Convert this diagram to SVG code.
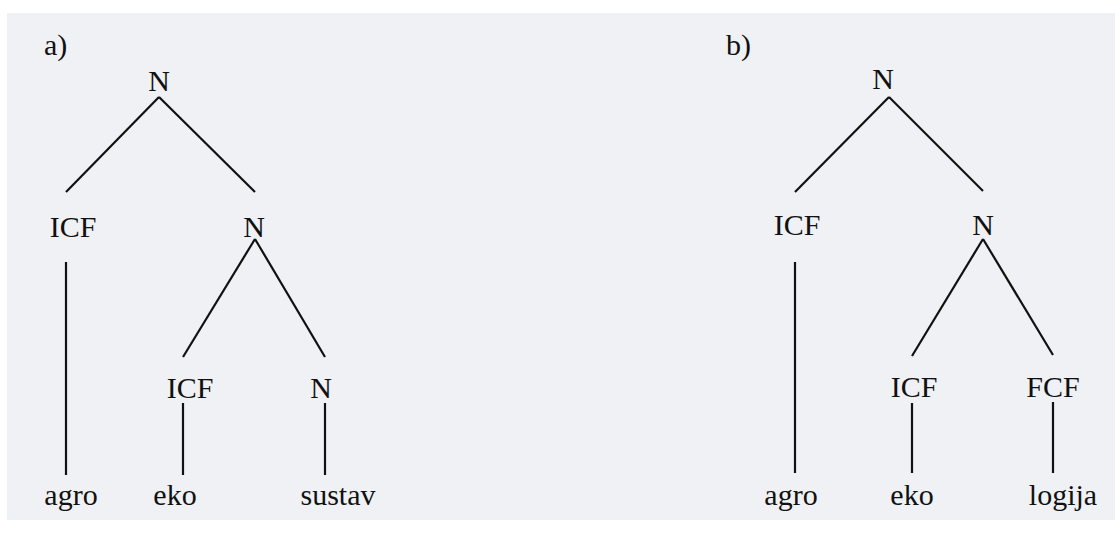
<svg xmlns="http://www.w3.org/2000/svg" width="1115" height="533" viewBox="0 0 1115 533">
<style>
text{font-family:'Liberation Serif','Times New Roman','DejaVu Serif',serif;font-size:30px;fill:#111;text-anchor:middle}
.lbl{text-anchor:start}
line{stroke:#111;stroke-width:2.2;stroke-linecap:butt}
</style>
<rect x="0" y="0" width="1115" height="533" fill="#ffffff"/>
<rect x="7" y="13" width="1108" height="507" fill="#eff1f4"/>
<g font-family="Liberation Serif, DejaVu Serif, serif">
<text class="lbl" x="44" y="55">a)</text>
<text class="lbl" x="726" y="55">b)</text>
</g>
<g id="connectors">
<line x1="159" y1="97" x2="66" y2="192"/>
<line x1="159" y1="97" x2="255" y2="192"/>
<line x1="66" y1="262" x2="66" y2="475"/>
<line x1="255" y1="239" x2="183" y2="357"/>
<line x1="255" y1="239" x2="325" y2="357"/>
<line x1="183" y1="403" x2="183" y2="475"/>
<line x1="325" y1="403" x2="325" y2="475"/>
<line x1="889" y1="97" x2="795" y2="192"/>
<line x1="889" y1="97" x2="983" y2="191"/>
<line x1="795" y1="262" x2="795" y2="473"/>
<line x1="983" y1="239" x2="912" y2="356"/>
<line x1="983" y1="239" x2="1053" y2="355"/>
<line x1="912" y1="403" x2="912" y2="473"/>
<line x1="1053" y1="402" x2="1053" y2="473"/>
</g>
<g id="a-root"><text x="159" y="91">N</text></g>
<g id="a-icf1"><text x="73" y="237">ICF</text></g>
<g id="a-n2"><text x="254" y="237">N</text></g>
<g id="a-icf2"><text x="190" y="398">ICF</text></g>
<g id="a-n3"><text x="321" y="398">N</text></g>
<g id="a-agro"><text x="71" y="505">agro</text></g>
<g id="a-eko"><text x="175" y="505">eko</text></g>
<g id="a-sustav"><text x="338" y="505">sustav</text></g>
<g id="b-root"><text x="883" y="89">N</text></g>
<g id="b-icf1"><text x="797" y="235">ICF</text></g>
<g id="b-n2"><text x="983" y="235">N</text></g>
<g id="b-icf2"><text x="914" y="397">ICF</text></g>
<g id="b-fcf"><text x="1053" y="397">FCF</text></g>
<g id="b-agro"><text x="791" y="505">agro</text></g>
<g id="b-eko"><text x="912" y="505">eko</text></g>
<g id="b-logija"><text x="1063" y="505">logija</text></g>
</svg>
